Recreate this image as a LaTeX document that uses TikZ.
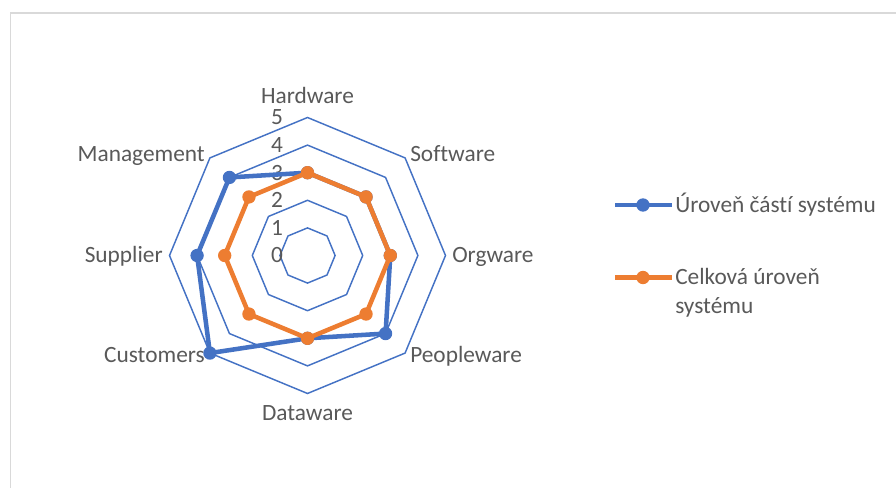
\documentclass[tikz,border=0pt]{standalone}
\usepackage{fontspec}
\setmainfont{Carlito}[Ligatures=NoCommon]
\usepackage{tikz}
\definecolor{serBlue}{HTML}{4472C4}
\definecolor{serOrange}{HTML}{ED7D31}
\definecolor{txtGray}{HTML}{595959}
\definecolor{frameGray}{HTML}{D9D9D9}

\begin{document}
\begin{tikzpicture}[x=0.75pt,y=0.75pt,
        every node/.style={text=txtGray,font=\fontsize{17.5}{22}\selectfont,inner sep=0pt},
        ring/.style={draw=serBlue,line width=1.1pt,line join=miter},
        series/.style={draw=#1,line width=3.4pt,line join=round},
        dot/.style={circle,fill=#1,minimum size=10pt,inner sep=0pt}]
        \useasboundingbox (0,0) rectangle (896,488);
        \draw[frameGray,line width=1.1pt] (900,475) -- (10.5,475) -- (10.5,-5);

        \begin{scope}[shift={(307.5,232.5)}]
        % rings 1..5
        \foreach \r in {1,...,5}
            \draw[ring] (90:{27.6*\r}) -- (45:{27.6*\r}) -- (0:{27.6*\r}) -- (-45:{27.6*\r})
                        -- (-90:{27.6*\r}) -- (-135:{27.6*\r}) -- (180:{27.6*\r}) -- (135:{27.6*\r}) -- cycle;

        % scale
        \foreach \v in {0,...,5}
            \node (tick\v) at (-30.5,{27.6*\v-7.5}) [anchor=base] {\v};

        % categories
        \node (lHardware)   at (0,152)        [anchor=base]      {Hardware};
        \node (lSoftware)   at (102.5,94)     [anchor=base west] {Software};
        \node (lOrgware)    at (144.5,-7.5)   [anchor=base west] {Orgware};
        \node (lPeopleware) at (102.5,-107.5) [anchor=base west] {Peopleware};
        \node (lDataware)   at (0,-165.5)     [anchor=base]      {Dataware};
        \node (lCustomers)  at (-102.5,-107.5)[anchor=base east] {Customers};
        \node (lSupplier)   at (-144.5,-7.5)  [anchor=base east] {Supplier};
        \node (lManagement) at (-102.5,94)    [anchor=base east] {Management};

        % series 1
        \foreach \a/\v [count=\i] in {90/3,45/3,0/3,-45/4,-90/3,-135/5,180/4,135/4}
            \coordinate (b\i) at (\a:{27.6*\v});
        \draw[series=serBlue] (b1) -- (b2) -- (b3) -- (b4) -- (b5) -- (b6) -- (b7) -- (b8) -- cycle;
        \foreach \i in {1,...,8}
            \node[dot=serBlue] (bdot\i) at (b\i) {};

        % series 2
        \foreach \a [count=\i] in {90,45,0,-45,-90,-135,180,135}
            \coordinate (o\i) at (\a:{27.6*3});
        \draw[series=serOrange] (o1) -- (o2) -- (o3) -- (o4) -- (o5) -- (o6) -- (o7) -- (o8) -- cycle;
        \foreach \i in {1,...,8}
            \node[dot=serOrange] (odot\i) at (o\i) {};
        \end{scope}

        % legend
        \coordinate (legBa) at (615,283);
        \coordinate (legBb) at (671.5,283);
        \draw[series=serBlue] (legBa) -- (legBb);
        \node[dot=serBlue] (legBdot) at (643,283) {};
        \node (legBtext) at (675,275) [anchor=base west] {Úroveň částí systému};

        \coordinate (legOa) at (615,210.5);
        \coordinate (legOb) at (671.5,210.5);
        \draw[series=serOrange] (legOa) -- (legOb);
        \node[dot=serOrange] (legOdot) at (643,210.5) {};
        \node (legOtext) at (675,174) [anchor=base west,align=left] {Celková úroveň\\systému};
\end{tikzpicture}
\end{document}
